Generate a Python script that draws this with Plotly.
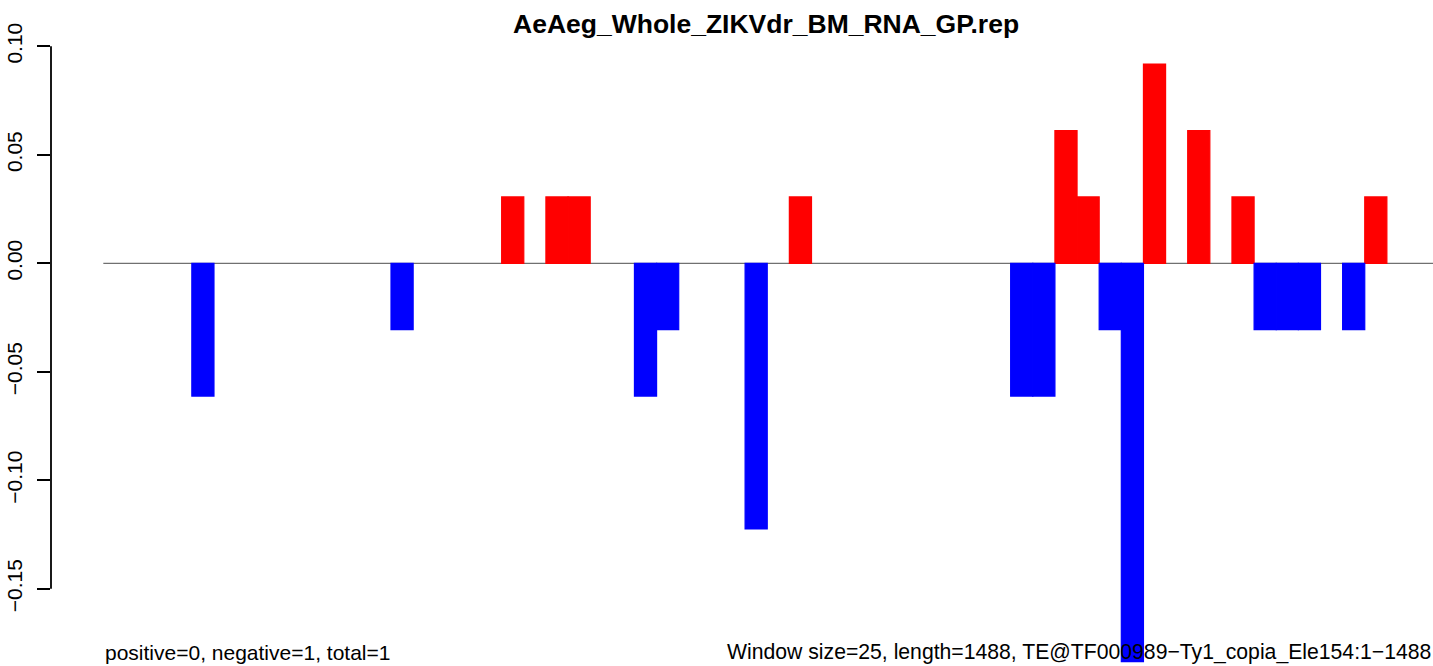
import plotly.graph_objects as go

# Sliding-window coverage of TE@TF000989-Ty1_copia_Ele154 (window = 25 nt)
window_size = 25
seq_length = 1488

# windows with reads on the positive strand and their normalised counts
pos_windows = [18, 20, 21, 31, 43, 44, 47, 49, 51, 57]
pos_values = [0.0306, 0.0306, 0.0306, 0.0306, 0.0612, 0.0306, 0.0918, 0.0612, 0.0306, 0.0306]

# windows with reads on the negative strand (plotted below zero)
neg_windows = [4, 13, 24, 25, 29, 41, 42, 45, 46, 52, 53, 54, 56]
neg_values = [-0.0612, -0.0306, -0.0612, -0.0306, -0.1224, -0.0612, -0.0612,
              -0.0306, -0.1836, -0.0306, -0.0306, -0.0306, -0.0306]

y_ticks = [0.10, 0.05, 0.00, -0.05, -0.10, -0.15]
y_tick_text = ["0.10", "0.05", "0.00", "\u22120.05", "\u22120.10", "\u22120.15"]

title_text = "AeAeg_Whole_ZIKVdr_BM_RNA_GP.rep"
left_note = "positive=0, negative=1, total=1"
right_note = "Window size=25, length=1488, TE@TF000989\u2212Ty1_copia_Ele154:1\u22121488"

FONT = "Liberation Sans, Arial, Helvetica, sans-serif"

fig = go.Figure()
fig.add_trace(go.Bar(
    x=[w * window_size for w in pos_windows], y=pos_values,
    width=window_size, offset=0,
    marker=dict(color="#ff0000", line=dict(width=1.2, color="#ff0000")),
    showlegend=False, hoverinfo="skip",
))
fig.add_trace(go.Bar(
    x=[w * window_size for w in neg_windows], y=neg_values,
    width=window_size, offset=0,
    marker=dict(color="#0000ff", line=dict(width=1.2, color="#0000ff")),
    showlegend=False, hoverinfo="skip",
))

# zero baseline across the sequence
fig.add_shape(type="line", xref="x", yref="y", x0=0, x1=1503, y0=0, y1=0,
              line=dict(color="#707070", width=1.2), layer="below")
# y axis line spanning only the labelled ticks
fig.add_shape(type="line", xref="paper", yref="y", x0=0, x1=0,
              y0=min(y_ticks), y1=max(y_ticks),
              line=dict(color="black", width=1.8))

fig.add_annotation(text="<b>" + title_text + "</b>", xref="paper", yref="paper",
                   x=(766 - 51) / (1433 - 51), y=1 - 24 / 666,
                   xanchor="center", yanchor="middle", showarrow=False,
                   font=dict(family=FONT, size=26.5, color="black"))
fig.add_annotation(text=left_note, xref="x", yref="paper", x=0, y=1 - 652 / 666,
                   xanchor="left", yanchor="middle", showarrow=False,
                   font=dict(family=FONT, size=21, color="black"))
fig.add_annotation(text=right_note, xref="paper", yref="paper", x=1, xshift=0,
                   y=1 - 652 / 666, xanchor="right", yanchor="middle", showarrow=False,
                   font=dict(family=FONT, size=21.2, color="black"))

fig.update_layout(
    width=1433, height=666,
    margin=dict(l=51, r=0, t=0, b=0),
    paper_bgcolor="white", plot_bgcolor="white",
    barmode="overlay",
    font=dict(family=FONT, size=21, color="black"),
    xaxis=dict(range=[-59.1, 1502.1], visible=False, showgrid=False, zeroline=False),
    yaxis=dict(range=[-0.18558, 0.12134], showgrid=False, zeroline=False, showline=False,
               tickmode="array", tickvals=y_ticks, ticktext=y_tick_text,
               ticks="outside", ticklen=13, tickwidth=1.8, tickcolor="black",
               ticklabelstandoff=7,
               tickangle=-90, tickfont=dict(family=FONT, size=21, color="black")),
)

fig.write_html("out.html", config={"displayModeBar": False})
